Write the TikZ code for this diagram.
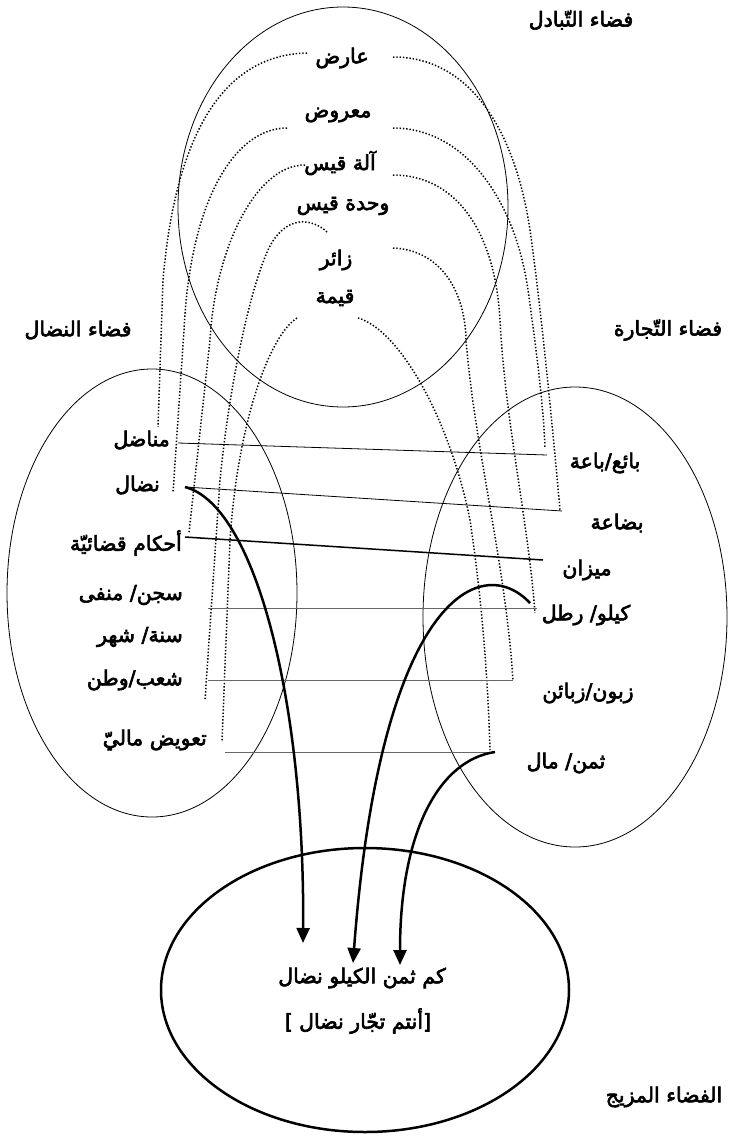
\documentclass[tikz,border=0pt]{standalone}
\usepackage{fontspec}
\newfontfamily\arfont[Script=Arabic,FakeBold=3]{DejaVu Sans}
\newfontfamily\brkfont[FakeBold=3]{DejaVu Sans}
\TeXXeTstate=1
\usetikzlibrary{arrows.meta}
\newcommand\AR[1]{{\arfont\beginR #1\endR}}
\begin{document}
\begin{tikzpicture}[x=1pt,y=-1pt,
  lbl/.style={inner sep=0pt,font=\fontsize{20.5}{24}\selectfont},
  space/.style={draw,line width=0.8pt},
  dots/.style={line width=1.5pt,dash pattern=on 1.4pt off 1.9pt},
  tie/.style={line width=0.8pt},
  tieg/.style={line width=1pt,draw=black!60},
  bold/.style={line width=2.5pt},
  arr/.style={line width=2.5pt,-{Triangle[length=15pt,width=13pt]}}]
\useasboundingbox (0,0) rectangle (731,1138);
% spaces
\draw[space] (343,207) ellipse [x radius=165,y radius=200];
\draw[space] (152,593) ellipse [x radius=145,y radius=224];
\draw[space] (575,617) ellipse [x radius=152,y radius=230];
\draw[bold] (365,990) ellipse [x radius=204,y radius=142];
% titles
\node[lbl] (T1) at (581,20) {\AR{فضاء التّبادل}};
\node[lbl] (T2) at (78,330) {\AR{فضاء النضال}};
\node[lbl] (T3) at (668,330) {\AR{فضاء التّجارة}};
\node[lbl] (T4) at (664,1097) {\AR{الفضاء المزيج}};
% top labels
\node[lbl] (t1) at (342,58) {\AR{عارض}};
\node[lbl] (t2) at (338,115) {\AR{معروض}};
\node[lbl] (t3) at (340,163) {\AR{آلة قيس}};
\node[lbl] (t4) at (343,206) {\AR{وحدة قيس}};
\node[lbl] (t5) at (336,260) {\AR{زائر}};
\node[lbl] (t6) at (335,298) {\AR{قيمة}};
% left labels
\node[lbl,anchor=east] (l1) at (170,440) {\AR{مناضل}};
\node[lbl,anchor=east] (l2) at (160,485) {\AR{نضال}};
\node[lbl,anchor=east] (l3) at (182,543) {\AR{أحكام قضائيّة}};
\node[lbl,anchor=east] (l4) at (183,595) {\AR{سجن/ منفى}};
\node[lbl,anchor=east] (l5) at (183,637) {\AR{سنة/ شهر}};
\node[lbl,anchor=east] (l6) at (183,680) {\AR{شعب/وطن}};
\node[lbl,anchor=east] (l7) at (207,740) {\AR{تعويض ماليّ}};
% right labels
\node[lbl] (r1) at (605,463) {\AR{بائع/باعة}};
\node[lbl] (r2) at (617,523) {\AR{بضاعة}};
\node[lbl] (r3) at (587,570) {\AR{ميزان}};
\node[lbl] (r4) at (586,615) {\AR{كيلو/ رطل}};
\node[lbl] (r5) at (588,693) {\AR{زبون/زبائن}};
\node[lbl] (r6) at (566,763) {\AR{ثمن/ مال}};
% blend
\node[lbl] (b1) at (362,978) {\AR{كم ثمن الكيلو نضال}};
\node[lbl] (b2) at (358,1021) {{\brkfont[}\ \AR{أنتم تجّار نضال}{\brkfont]}};
% anchor points
\coordinate (aL1) at (307,53);  \coordinate (aR1) at (393,57);
\coordinate (aL2) at (287,128); \coordinate (aR2) at (393,128);
\coordinate (aL3) at (305,165); \coordinate (aR3) at (393,175);
\coordinate (aL4) at (327,232); \coordinate (aR4) at (393,248);
\coordinate (aL5) at (297,318); \coordinate (aR5) at (358,318);
\coordinate (eL1) at (158,427); \coordinate (eR1) at (560,510);
\coordinate (eL2) at (173,493); \coordinate (eR2) at (545,447);
\coordinate (eL3) at (189,533); \coordinate (eR3) at (535,613);
\coordinate (eL4) at (205,700); \coordinate (eR4) at (513,680);
\coordinate (eL5) at (222,742); \coordinate (eR5) at (490,750);
% dotted arcs, left
\draw[dots] (aL1) .. controls (220,55) and (175,140) .. (163,280) -- (eL1);
\draw[dots] (aL2) .. controls (235,128) and (190,200) .. (184,330) -- (eL2);
\draw[dots] (aL3) .. controls (255,165) and (215,250) .. (210,340) -- (eL3);
\draw[dots] (aL4) .. controls (312,218) and (285,214) .. (268,250) .. controls (250,290) and (230,380) .. (220,480) -- (eL4);
\draw[dots] (aL5) .. controls (270,335) and (238,420) .. (230,540) -- (eL5);
% dotted arcs, right
\draw[dots] (aR1) .. controls (470,57) and (515,130) .. (530,230) .. controls (540,300) and (552,420) .. (eR1);
\draw[dots] (aR2) .. controls (465,128) and (515,200) .. (528,290) .. controls (535,340) and (543,400) .. (eR2);
\draw[dots] (aR3) .. controls (455,175) and (495,230) .. (500,320) .. controls (505,420) and (528,520) .. (eR3);
\draw[dots] (aR4) .. controls (440,250) and (465,290) .. (466,340) .. controls (475,450) and (505,560) .. (eR4);
\draw[dots] (aR5) .. controls (400,330) and (450,420) .. (470,520) .. controls (482,600) and (488,680) .. (eR5);
% ties
\coordinate (s1a) at (178,443); \coordinate (s1b) at (547,455);
\coordinate (s2a) at (185,487); \coordinate (s2b) at (562,511);
\coordinate (s3a) at (185,537); \coordinate (s3b) at (543,560);
\coordinate (s4a) at (208,608); \coordinate (s4b) at (537,608);
\coordinate (s5a) at (208,680); \coordinate (s5b) at (513,680);
\coordinate (s6a) at (225,752); \coordinate (s6b) at (495,752);
\draw[tie] (s1a) -- (s1b);
\draw[tie] (s2a) -- (s2b);
\draw[line width=1.5pt] (s3a) -- (s3b);
\draw[tieg] (s4a) -- (s4b);
\draw[tieg] (s5a) -- (s5b);
\draw[tieg] (s6a) -- (s6b);
% arrows into the blend
\coordinate (kA) at (530,603);
\coordinate (pA) at (303,943);
\coordinate (pB) at (353,963);
\coordinate (pC) at (400,965);
\draw[arr] (s2a) .. controls (255,505) and (305,700) .. (pA);
\draw[arr] (kA) .. controls (480,550) and (380,600) .. (pB);
\draw[arr] (s6b) .. controls (440,760) and (400,830) .. (pC);
\end{tikzpicture}
\end{document}
